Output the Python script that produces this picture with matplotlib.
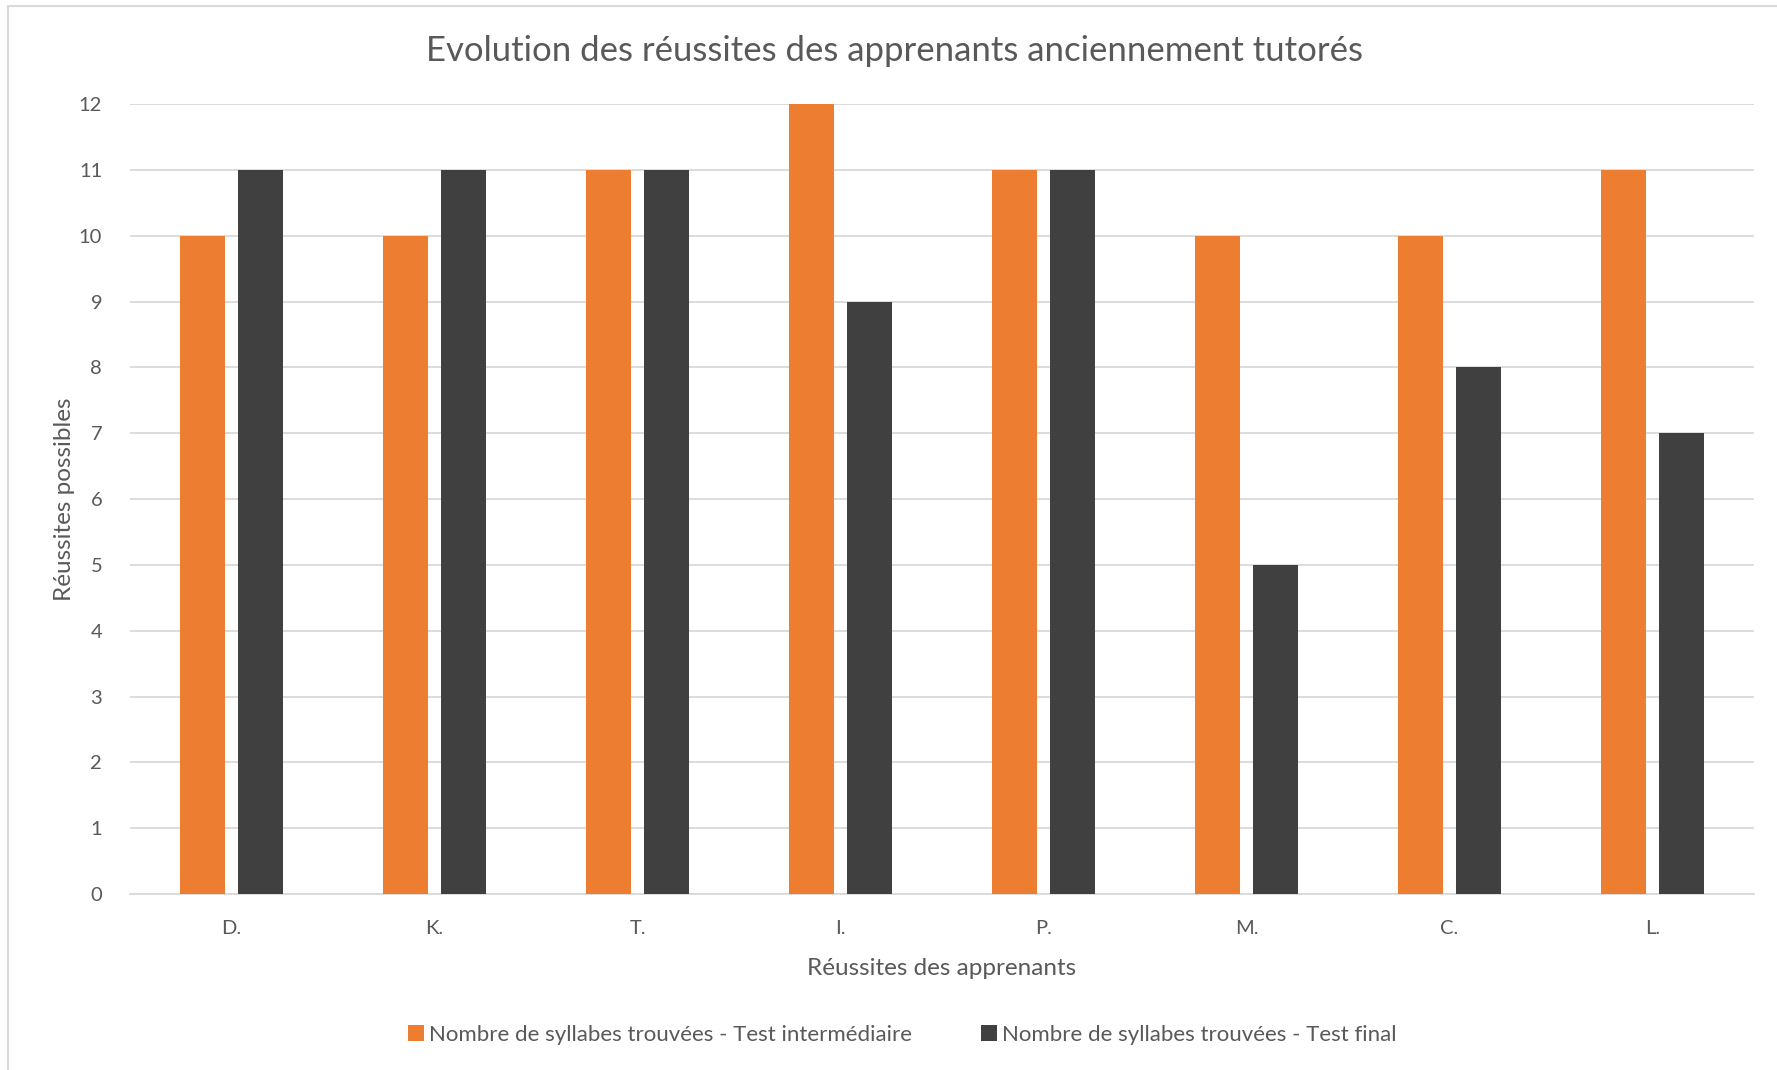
import numpy as np
import matplotlib.pyplot as plt
from matplotlib.patches import Rectangle

plt.rcParams['font.family'] = ['Lato', 'DejaVu Sans']

# data
apprenants = ['D.', 'K.', 'T.', 'I.', 'P.', 'M.', 'C.', 'L.']
test_intermediaire = [10, 10, 11, 12, 11, 10, 10, 11]
test_final = [11, 11, 11, 9, 11, 5, 8, 7]
serie_labels = ['Nombre de syllabes trouvées - Test intermédiaire',
                'Nombre de syllabes trouvées - Test final']

orange = '#ED7D31'
dark = '#404040'
text_col = '#595959'
grid_col = '#D9D9D9'

W, H = 1777, 1070
fig = plt.figure(figsize=(W / 100, H / 100), dpi=100)
ax = fig.add_axes([130 / W, 1 - 894 / H, (1754 - 130) / W, (894 - 104) / H])

x = np.arange(len(apprenants))
bw = 0.223
off = 0.143
ax.bar(x - off, test_intermediaire, bw, color=orange, label=serie_labels[0], zorder=3)
ax.bar(x + off, test_final, bw, color=dark, label=serie_labels[1], zorder=3)

ax.set_xlim(-0.5, len(apprenants) - 0.5)
ax.set_ylim(0, 12)
ax.set_yticks(range(0, 13))
ax.set_xticks(x)
ax.set_xticklabels(apprenants)
ax.yaxis.grid(True, color=grid_col, linewidth=1.3, zorder=0)
ax.tick_params(length=0, labelsize=14.5, colors=text_col)
ax.tick_params(axis='x', pad=19)
ax.tick_params(axis='y', pad=20)
for s in ['top', 'right', 'left']:
    ax.spines[s].set_visible(False)
ax.spines['bottom'].set_color(grid_col)
ax.spines['bottom'].set_linewidth(1.3)

ax.set_xlabel('Réussites des apprenants', fontsize=17.5, color=text_col, labelpad=15)
ax.set_ylabel('Réussites possibles', fontsize=17.5, color=text_col, labelpad=3)

fig.text(895 / W, 1 - 51 / H, 'Evolution des réussites des apprenants anciennement tutorés',
         ha='center', va='center', fontsize=25, color=text_col)

leg = fig.legend(loc='center', bbox_to_anchor=(902 / W, 1 - 1035 / H), ncol=2,
                 frameon=False, fontsize=16, handlelength=0.75, handleheight=0.75,
                 handletextpad=0.2, columnspacing=3.1)
for t in leg.get_texts():
    t.set_color(text_col)

# chart border
fig.patches.append(Rectangle((8 / W, -0.05), 1.1, 1 - 6 / H + 0.05, transform=fig.transFigure,
                             fill=False, edgecolor=grid_col, linewidth=1.5))

fig.savefig('out.png', dpi=100)
